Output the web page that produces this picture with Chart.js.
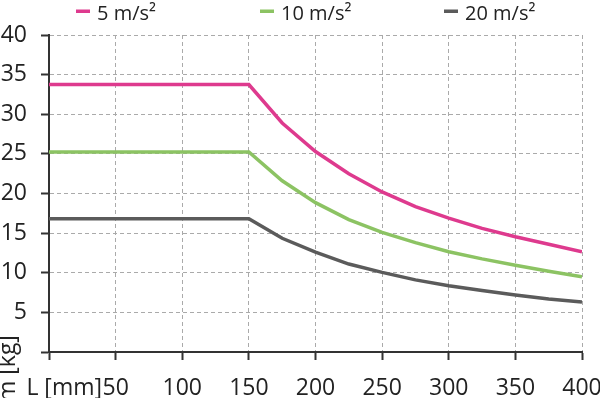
<!DOCTYPE html>
<html>
<head>
<meta charset="utf-8">
<script src="https://cdn.jsdelivr.net/npm/chart.js@4"></script>
<style>
  html, body { margin: 0; padding: 0; background: #fff; }
  #wrap { width: 600px; height: 398px; }
</style>
</head>
<body>
<div id="wrap"><canvas id="grafico"></canvas></div>
<script>
// comprimento L [mm] e massa m [kg] para cada aceleração
const distancias = [0, 150, 175, 200, 225, 250, 275, 300, 325, 350, 375, 400];
const massa5 = [33.75, 33.75, 28.9, 25.3, 22.5, 20.2, 18.35, 16.9, 15.6, 14.55, 13.6, 12.65];
const massa10 = [25.25, 25.25, 21.6, 18.85, 16.7, 15.1, 13.8, 12.65, 11.75, 10.95, 10.2, 9.5];
const massa20 = [16.8, 16.8, 14.35, 12.6, 11.1, 10.05, 9.1, 8.35, 7.75, 7.2, 6.7, 6.3];
const rotulos = ['5 m/s²', '10 m/s²', '20 m/s²'];
const cores = ['#de3a8e', '#8cc363', '#5b5b5b'];
const tituloX = 'L [mm]';
const tituloY = 'm [kg]';

const fonte = '"Open Sans", sans-serif';
const corTexto = '#222';

function pontos(valores) {
    return distancias.map((x, i) => ({ x: x, y: valores[i] }));
}

// legenda e títulos dos eixos desenhados à mão
const extras = {
    id: 'extras',
    afterDraw(chart) {
        const ctx = chart.ctx;
        ctx.save();
        ctx.fillStyle = corTexto;
        ctx.textBaseline = 'middle';
        ctx.font = '20px ' + fonte;
        chart.data.datasets.forEach((ds, i) => {
            const x = 76 + i * 184;
            ctx.fillStyle = ds.borderColor;
            ctx.fillRect(x, 9.5, 14, 3.5);
            ctx.fillStyle = corTexto;
            ctx.textAlign = 'left';
            ctx.fillText(ds.label, x + 21, 14);
        });

        ctx.font = '23px ' + fonte;
        ctx.textBaseline = 'alphabetic';
        ctx.textAlign = 'right';
        ctx.fillText(tituloX, 102, 395);

        ctx.translate(15, 402);
        ctx.rotate(-Math.PI / 2);
        ctx.textAlign = 'left';
        ctx.fillText(tituloY, 0, 0);
        ctx.restore();
    }
};

const semPadding = (s) => {
    s.paddingLeft = 0;
    s.paddingRight = 0;
    s.paddingTop = 0;
    s.paddingBottom = 0;
};

window.onload = function() {
    const ctx = document.getElementById('grafico').getContext('2d');
    new Chart(ctx, {
        type: 'line',
        data: {
            datasets: [massa5, massa10, massa20].map((v, i) => ({
                label: rotulos[i],
                data: pontos(v),
                borderColor: cores[i],
                backgroundColor: cores[i],
                borderWidth: 3.5,
                pointRadius: 0,
                tension: 0,
                fill: false
            }))
        },
        options: {
            responsive: true,
            maintainAspectRatio: false,
            animation: false,
            layout: { padding: { top: 35, right: 18, left: 0, bottom: 0 } },
            scales: {
                x: {
                    type: 'linear',
                    min: 0,
                    max: 400,
                    afterFit: (s) => { s.height = 46; semPadding(s); },
                    ticks: {
                        stepSize: 50,
                        autoSkip: false,
                        maxRotation: 0,
                        padding: 15,
                        color: corTexto,
                        font: { family: fonte, size: 23 },
                        callback: (v) => v === 0 ? '' : v
                    },
                    grid: {
                        color: '#aaa',
                        lineWidth: 1,
                        tickLength: 8,
                        tickColor: '#333',
                        tickWidth: 2,
                        tickBorderDash: []
                    },
                    border: { color: '#333', width: 2, dash: [4, 3] }
                },
                y: {
                    min: 0,
                    max: 40,
                    afterFit: (s) => { s.width = 49; semPadding(s); },
                    ticks: {
                        stepSize: 5,
                        padding: 14,
                        color: corTexto,
                        font: { family: fonte, size: 23 },
                        callback: (v) => v === 0 ? '' : v
                    },
                    grid: {
                        color: '#aaa',
                        lineWidth: 1,
                        tickLength: 8,
                        tickColor: '#333',
                        tickWidth: 2,
                        tickBorderDash: []
                    },
                    border: { color: '#333', width: 2, dash: [4, 3] }
                }
            },
            plugins: {
                legend: { display: false },
                tooltip: { enabled: false }
            }
        },
        plugins: [extras]
    });
};
</script>
</body>
</html>
